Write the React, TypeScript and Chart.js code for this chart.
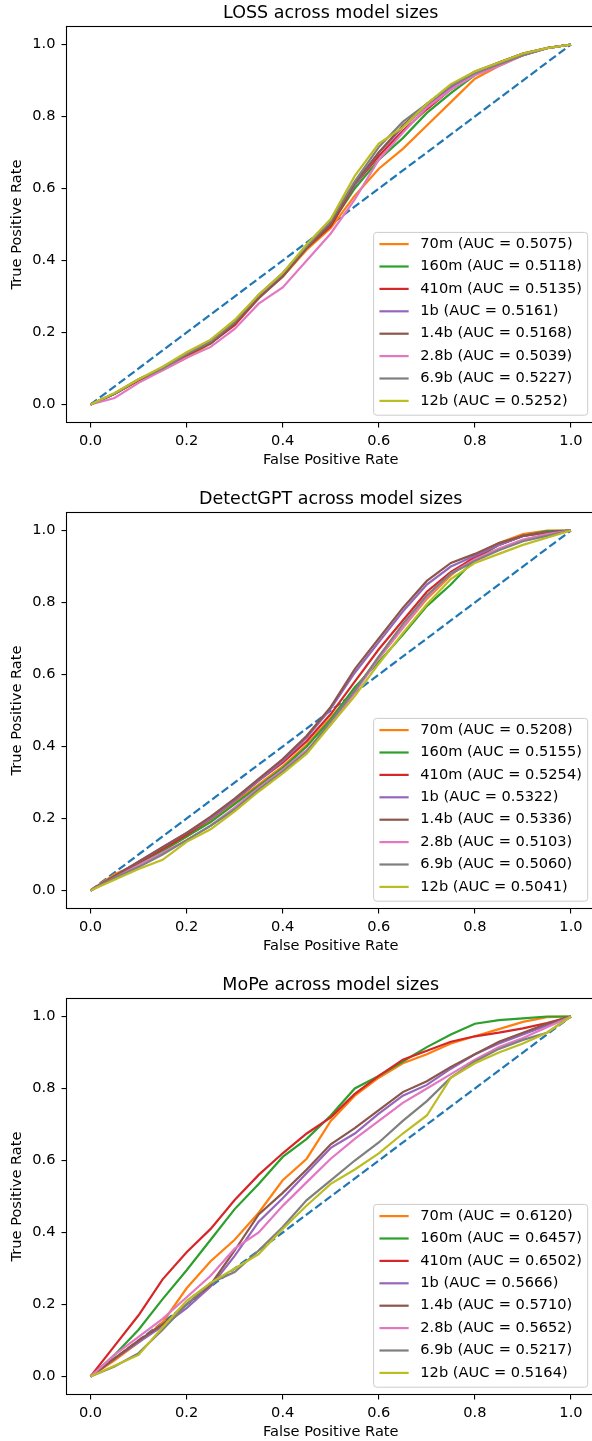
import React, { useEffect, useRef } from "react";
import { Chart, registerables } from "chart.js";

Chart.register(...registerables);

// ---------- data ----------
const FPR = [0, 0.05, 0.1, 0.15, 0.2, 0.25, 0.3, 0.35, 0.4, 0.45, 0.5, 0.55, 0.6, 0.65, 0.7, 0.75, 0.8, 0.85, 0.9, 0.95, 1];
const MODEL_NAMES = ["70m", "160m", "410m", "1b", "1.4b", "2.8b", "6.9b", "12b"];
const AXIS_TICKS = [0, 0.2, 0.4, 0.6, 0.8, 1.0];
const DIAGONAL = [0, 1];

const TITLES = ["LOSS across model sizes", "DetectGPT across model sizes", "MoPe across model sizes"];

// LOSS
const LOSS_AUC = [0.5075, 0.5118, 0.5135, 0.5161, 0.5168, 0.5039, 0.5227, 0.5252];
const LOSS_70M = [0, 0.03, 0.066, 0.095, 0.13, 0.17, 0.225, 0.3, 0.355, 0.43, 0.49, 0.58, 0.655, 0.71, 0.775, 0.84, 0.905, 0.94, 0.97, 0.99, 1];
const LOSS_160M = [0, 0.03, 0.068, 0.1, 0.137, 0.17, 0.225, 0.3, 0.36, 0.435, 0.5, 0.6, 0.68, 0.74, 0.81, 0.865, 0.915, 0.945, 0.97, 0.99, 1];
const LOSS_410M = [0, 0.03, 0.068, 0.1, 0.137, 0.17, 0.22, 0.295, 0.36, 0.435, 0.495, 0.61, 0.69, 0.76, 0.82, 0.875, 0.92, 0.95, 0.975, 0.99, 1];
const LOSS_1B = [0, 0.03, 0.07, 0.1, 0.14, 0.175, 0.228, 0.3, 0.36, 0.44, 0.505, 0.61, 0.7, 0.77, 0.83, 0.88, 0.92, 0.945, 0.97, 0.99, 1];
const LOSS_1_4B = [0, 0.03, 0.068, 0.1, 0.14, 0.17, 0.225, 0.295, 0.355, 0.435, 0.5, 0.615, 0.7, 0.775, 0.835, 0.885, 0.925, 0.95, 0.975, 0.99, 1];
const LOSS_2_8B = [0, 0.018, 0.06, 0.095, 0.13, 0.16, 0.21, 0.28, 0.325, 0.4, 0.475, 0.57, 0.68, 0.755, 0.825, 0.875, 0.915, 0.94, 0.97, 0.99, 1];
const LOSS_6_9B = [0, 0.03, 0.07, 0.1, 0.14, 0.175, 0.23, 0.305, 0.365, 0.44, 0.51, 0.62, 0.715, 0.785, 0.835, 0.885, 0.92, 0.945, 0.97, 0.99, 1];
const LOSS_12B = [0, 0.032, 0.07, 0.105, 0.145, 0.18, 0.235, 0.305, 0.365, 0.445, 0.515, 0.635, 0.725, 0.77, 0.835, 0.89, 0.925, 0.95, 0.975, 0.99, 1];

// DetectGPT
const DGPT_AUC = [0.5208, 0.5155, 0.5254, 0.5322, 0.5336, 0.5103, 0.506, 0.5041];
const DGPT_70M = [0, 0.045, 0.075, 0.11, 0.15, 0.195, 0.245, 0.295, 0.345, 0.405, 0.48, 0.56, 0.645, 0.73, 0.81, 0.875, 0.93, 0.965, 0.99, 1, 1];
const DGPT_160M = [0, 0.04, 0.075, 0.11, 0.15, 0.19, 0.24, 0.29, 0.34, 0.4, 0.475, 0.565, 0.635, 0.71, 0.79, 0.85, 0.92, 0.96, 0.985, 0.998, 1];
const DGPT_410M = [0, 0.04, 0.078, 0.115, 0.155, 0.2, 0.25, 0.305, 0.355, 0.415, 0.49, 0.58, 0.67, 0.75, 0.83, 0.885, 0.925, 0.96, 0.985, 0.995, 1];
const DGPT_1B = [0, 0.04, 0.08, 0.12, 0.16, 0.2, 0.25, 0.305, 0.36, 0.425, 0.505, 0.605, 0.69, 0.775, 0.85, 0.9, 0.93, 0.96, 0.985, 0.995, 1];
const DGPT_1_4B = [0, 0.04, 0.08, 0.12, 0.16, 0.205, 0.255, 0.31, 0.365, 0.43, 0.51, 0.615, 0.7, 0.785, 0.86, 0.91, 0.935, 0.965, 0.985, 0.995, 1];
const DGPT_2_8B = [0, 0.035, 0.07, 0.105, 0.14, 0.18, 0.23, 0.285, 0.335, 0.39, 0.46, 0.55, 0.645, 0.73, 0.815, 0.88, 0.92, 0.95, 0.975, 0.99, 1];
const DGPT_6_9B = [0, 0.035, 0.065, 0.1, 0.14, 0.18, 0.225, 0.28, 0.33, 0.385, 0.47, 0.555, 0.65, 0.74, 0.82, 0.88, 0.915, 0.945, 0.97, 0.985, 1];
const DGPT_12B = [0, 0.03, 0.06, 0.085, 0.135, 0.17, 0.22, 0.275, 0.325, 0.38, 0.46, 0.54, 0.63, 0.715, 0.795, 0.865, 0.91, 0.935, 0.96, 0.98, 1];

// MoPe
const MOPE_AUC = [0.612, 0.6457, 0.6502, 0.5666, 0.571, 0.5652, 0.5217, 0.5164];
const MOPE_70M = [0, 0.045, 0.095, 0.15, 0.245, 0.32, 0.38, 0.455, 0.545, 0.605, 0.71, 0.78, 0.83, 0.87, 0.895, 0.925, 0.945, 0.965, 0.985, 0.998, 1];
const MOPE_160M = [0, 0.06, 0.13, 0.215, 0.295, 0.38, 0.465, 0.535, 0.61, 0.66, 0.725, 0.8, 0.835, 0.875, 0.915, 0.95, 0.98, 0.99, 0.995, 1, 1];
const MOPE_410M = [0, 0.085, 0.17, 0.27, 0.345, 0.41, 0.49, 0.56, 0.62, 0.675, 0.72, 0.785, 0.835, 0.88, 0.905, 0.93, 0.945, 0.955, 0.967, 0.982, 1];
const MOPE_1B = [0, 0.05, 0.095, 0.14, 0.19, 0.25, 0.335, 0.43, 0.495, 0.565, 0.635, 0.675, 0.73, 0.78, 0.81, 0.855, 0.895, 0.925, 0.95, 0.975, 1];
const MOPE_1_4B = [0, 0.05, 0.1, 0.145, 0.2, 0.255, 0.35, 0.45, 0.51, 0.575, 0.645, 0.69, 0.74, 0.79, 0.82, 0.86, 0.895, 0.93, 0.955, 0.98, 1];
const MOPE_2_8B = [0, 0.06, 0.11, 0.16, 0.22, 0.28, 0.355, 0.4, 0.474, 0.54, 0.605, 0.66, 0.71, 0.76, 0.8, 0.84, 0.88, 0.915, 0.94, 0.97, 1];
const MOPE_6_9B = [0, 0.028, 0.065, 0.13, 0.2, 0.26, 0.29, 0.35, 0.415, 0.49, 0.545, 0.6, 0.65, 0.71, 0.765, 0.83, 0.875, 0.91, 0.935, 0.955, 1];
const MOPE_12B = [0, 0.03, 0.06, 0.137, 0.21, 0.26, 0.3, 0.34, 0.41, 0.475, 0.535, 0.575, 0.62, 0.675, 0.725, 0.83, 0.87, 0.9, 0.925, 0.955, 1];

const LOSS_TPR = [LOSS_70M, LOSS_160M, LOSS_410M, LOSS_1B, LOSS_1_4B, LOSS_2_8B, LOSS_6_9B, LOSS_12B];
const DGPT_TPR = [DGPT_70M, DGPT_160M, DGPT_410M, DGPT_1B, DGPT_1_4B, DGPT_2_8B, DGPT_6_9B, DGPT_12B];
const MOPE_TPR = [MOPE_70M, MOPE_160M, MOPE_410M, MOPE_1B, MOPE_1_4B, MOPE_2_8B, MOPE_6_9B, MOPE_12B];

// ---------- styles ----------
const COLORS = ["#ff7f0e", "#2ca02c", "#d62728", "#9467bd", "#8c564b", "#e377c2", "#7f7f7f", "#bcbd22"];
const DIAG_COLOR = "#1f77b4";
const FONT_FAMILY = "'DejaVu Sans', 'Liberation Sans', sans-serif";
const FS = 14.6;
const TITLE_FS = 17.5;
const LW = 2.2;

const CANVAS_W = 604;
const CANVAS_H = 486;

const framePlugin = {
  id: "frameAndLegend",
  afterDatasetsDraw(chart: any) {
    const { ctx, chartArea } = chart;
    ctx.save();
    // frame (spines)
    ctx.strokeStyle = "#000";
    ctx.lineWidth = 1.1;
    ctx.strokeRect(chartArea.left, chartArea.top, chartArea.right - chartArea.left, chartArea.bottom - chartArea.top);

    // legend inside lower right
    const items = chart.data.datasets.filter((d: any) => d.label);
    ctx.font = `${FS}px ${FONT_FAMILY}`;
    const maxW = Math.max(...items.map((d: any) => ctx.measureText(d.label).width));
    const pad = 0.4 * FS;
    const handleLen = 2 * FS;
    const textPad = 0.8 * FS;
    const rowH = 22.4;
    const w = pad + handleLen + textPad + maxW + pad;
    const h = items.length * rowH + 3.6;
    const x = chartArea.right - 7.3 - w;
    const y = chartArea.bottom - 7.3 - h;
    const r = 3;
    ctx.beginPath();
    ctx.moveTo(x + r, y);
    ctx.lineTo(x + w - r, y);
    ctx.arcTo(x + w, y, x + w, y + r, r);
    ctx.lineTo(x + w, y + h - r);
    ctx.arcTo(x + w, y + h, x + w - r, y + h, r);
    ctx.lineTo(x + r, y + h);
    ctx.arcTo(x, y + h, x, y + h - r, r);
    ctx.lineTo(x, y + r);
    ctx.arcTo(x, y, x + r, y, r);
    ctx.closePath();
    ctx.fillStyle = "rgba(255,255,255,0.8)";
    ctx.fill();
    ctx.strokeStyle = "#cccccc";
    ctx.lineWidth = 1;
    ctx.stroke();

    items.forEach((d: any, i: number) => {
      const cy = y + 0.5 + rowH * (i + 0.5);
      ctx.beginPath();
      ctx.moveTo(x + pad, cy);
      ctx.lineTo(x + pad + handleLen, cy);
      ctx.strokeStyle = d.borderColor;
      ctx.lineWidth = LW;
      ctx.stroke();
      ctx.fillStyle = "#000";
      ctx.textAlign = "left";
      ctx.textBaseline = "middle";
      ctx.fillText(d.label, x + pad + handleLen + textPad, cy);
    });
    ctx.restore();
  },
};

function RocChart({ title, tpr, auc }: { title: string; tpr: number[][]; auc: number[] }) {
  const ref = useRef<HTMLCanvasElement | null>(null);
  useEffect(() => {
    if (!ref.current) return;
    const n = tpr.length;
    const datasets: any[] = [
      {
        label: "",
        data: DIAGONAL.map((v) => ({ x: v, y: v })),
        borderColor: DIAG_COLOR,
        borderWidth: LW,
        borderDash: [8.2, 3.5],
        pointRadius: 0,
        fill: false,
        order: n + 1,
      },
      ...tpr.map((ys, i) => ({
        label: `${MODEL_NAMES[i]} (AUC = ${auc[i].toFixed(4)})`,
        data: FPR.map((x, j) => ({ x, y: ys[j] })),
        borderColor: COLORS[i],
        backgroundColor: COLORS[i],
        borderWidth: LW,
        pointRadius: 0,
        fill: false,
        tension: 0,
        order: n - i,
      })),
    ];
    const tickFont = { family: FONT_FAMILY, size: FS };
    const axisCommon = (isX: boolean) => ({
      type: "linear" as const,
      min: -0.05,
      max: 1.05,
      afterBuildTicks: (scale: any) => {
        scale.ticks = AXIS_TICKS.map((v) => ({ value: v }));
      },
      afterFit: (scale: any) => {
        if (isX) scale.height = 63.5;
        else scale.width = 66.5;
      },
      grid: {
        display: true,
        drawOnChartArea: false,
        drawTicks: true,
        tickLength: 5,
        color: "#000",
        lineWidth: 1.1,
      },
      border: { display: false },
      ticks: {
        font: tickFont,
        color: "#000",
        padding: isX ? 4.8 : 6,
        maxRotation: 0,
        autoSkip: false,
        callback: (v: any) => Number(v).toFixed(1),
      },
      title: {
        display: true,
        text: isX ? "False Positive Rate" : "True Positive Rate",
        font: tickFont,
        color: "#000",
        padding: isX ? { top: 0, bottom: 17.3 } : { top: 8.3, bottom: 0 },
      },
    });
    const chart = new Chart(ref.current, {
      type: "line",
      data: { datasets },
      options: {
        animation: false,
        responsive: false,
        devicePixelRatio: 1,
        layout: { padding: { left: 0, right: 9, top: 0, bottom: 0 } },
        scales: {
          x: axisCommon(true),
          y: axisCommon(false),
        },
        plugins: {
          legend: { display: false },
          tooltip: { enabled: false },
          title: {
            display: true,
            fullSize: false,
            text: title,
            color: "#000",
            font: { family: FONT_FAMILY, size: TITLE_FS, weight: "normal" },
            padding: { top: 3, bottom: 2.5 },
          },
        },
      } as any,
      plugins: [framePlugin],
    });
    return () => chart.destroy();
  }, [title, tpr, auc]);
  return <canvas ref={ref} width={CANVAS_W} height={CANVAS_H} style={{ display: "block", width: CANVAS_W, height: CANVAS_H }} />;
}

export default function App() {
  return (
    <div
      style={{
        position: "absolute",
        left: 0,
        top: 0,
        width: 592,
        height: 1441,
        overflow: "hidden",
        background: "#fff",
      }}
    >
      <RocChart title={TITLES[0]} tpr={LOSS_TPR} auc={LOSS_AUC} />
      <RocChart title={TITLES[1]} tpr={DGPT_TPR} auc={DGPT_AUC} />
      <RocChart title={TITLES[2]} tpr={MOPE_TPR} auc={MOPE_AUC} />
    </div>
  );
}
